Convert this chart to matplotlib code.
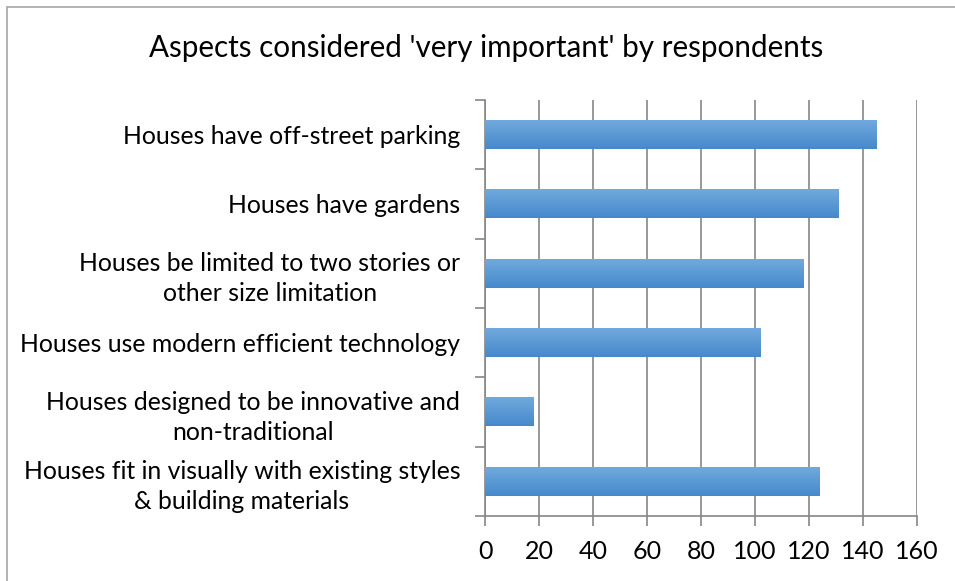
import numpy as np
import matplotlib.pyplot as plt
from matplotlib.patches import Rectangle

# categories listed bottom to top (as the chart draws them)
aspects = ['Houses fit in visually with existing styles\n& building materials',
           'Houses designed to be innovative and\nnon-traditional',
           'Houses use modern efficient technology',
           'Houses be limited to two stories or\nother size limitation',
           'Houses have gardens',
           'Houses have off-street parking']
counts = [124, 18, 102, 118, 131, 145]
xticks = [0, 20, 40, 60, 80, 100, 120, 140, 160]

plt.rcParams['font.family'] = ['Lato', 'DejaVu Sans']

# ------ Set up figure layout --------
fig = plt.figure(figsize=(9.55, 5.81), dpi=100)
ax1 = fig.add_axes([0.508, 0.112, 0.452, 0.716])

# outer chart border (left/top edges visible)
fig.patches.append(Rectangle((7 / 955, -0.1), 1.2, 1 - 7 / 581 + 0.1, transform=fig.transFigure,
                             fill=False, edgecolor='#a6a6a6', lw=1.2))

# ----- Add data -----
ypos = np.arange(len(aspects))
bars = ax1.barh(ypos, counts, height=0.42, color='#5b9bd5', zorder=3)

# top-to-bottom gradient on each bar
grad = np.linspace(0, 1, 64).reshape(-1, 1)
cmap = plt.matplotlib.colors.LinearSegmentedColormap.from_list('bar', ['#72aadf', '#4689cb'])
for b in bars:
    x0, y0 = b.get_x(), b.get_y()
    im = ax1.imshow(grad, cmap=cmap, aspect='auto', zorder=4, origin='lower',
                    extent=[x0, x0 + b.get_width(), y0 + b.get_height(), y0])
    im.set_clip_path(b)

ax1.set_xlim(0, 160)
ax1.set_ylim(-0.5, len(aspects) - 0.5)

# ------ Axes Labels --------
ax1.set_xticks(xticks)
ax1.set_xticklabels([str(t) for t in xticks], fontsize=18)
ax1.set_yticks(ypos)
ax1.set_yticklabels(aspects, fontsize=17.8, multialignment='center', linespacing=1.38)
ax1.set_yticks(np.arange(-0.5, len(aspects), 1), minor=True)
ax1.tick_params(axis='y', which='major', length=0, pad=18)
ax1.tick_params(axis='y', which='minor', length=7, color='#868686', width=1.2)
ax1.tick_params(axis='x', length=7, color='#868686', width=1.2, pad=10)

ax1.grid(axis='x', color='#868686', lw=1.2, zorder=0)
for s in ['top', 'right']:
    ax1.spines[s].set_visible(False)
for s in ['left', 'bottom']:
    ax1.spines[s].set_color('#868686')
    ax1.spines[s].set_linewidth(1.2)

fig.text(0.509, 0.918, "Aspects considered 'very important' by respondents", ha='center', va='center',
         fontsize=21.3)

plt.savefig('out.png', dpi=100)
